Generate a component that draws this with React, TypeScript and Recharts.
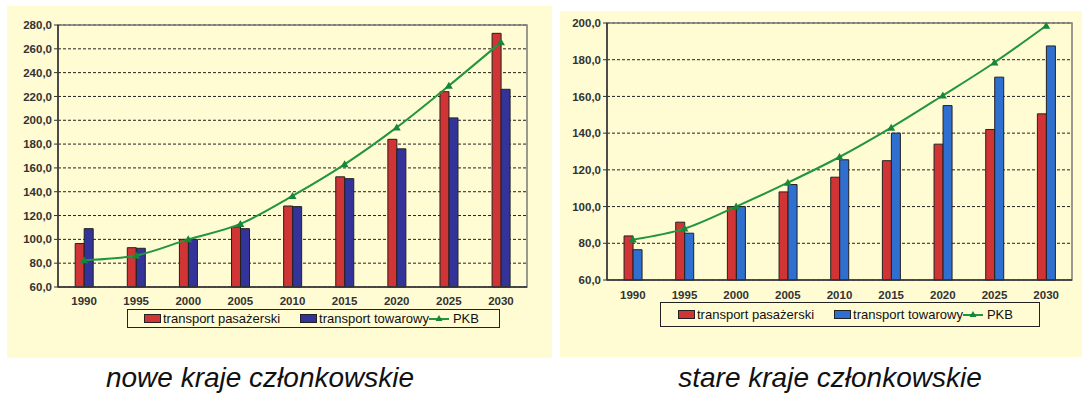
import React from "react";
import { ComposedChart, Bar, Line, XAxis, YAxis, CartesianGrid, Legend, ReferenceArea } from "recharts";

const years = ["1990", "1995", "2000", "2005", "2010", "2015", "2020", "2025", "2030"];

// nowe kraje członkowskie
const nowePasazerski = [96.5, 93, 100, 110.5, 128, 152.5, 184, 224, 273];
const noweTowarowy = [109, 92.5, 100, 109, 127.5, 151, 176, 202, 226];
const nowePKB = [82.5, 86.5, 100, 113, 136.5, 163, 194, 229, 265.5];
const noweTicks = [60, 80, 100, 120, 140, 160, 180, 200, 220, 240, 260, 280];

// stare kraje członkowskie
const starePasazerski = [84, 91.5, 100, 108, 116, 125, 134, 142, 150.5];
const stareTowarowy = [76.5, 85.5, 100, 112, 125.5, 140, 155, 170.5, 187.5];
const starePKB = [82, 88, 100, 113, 127, 143, 160.5, 178.5, 198.5];
const stareTicks = [60, 80, 100, 120, 140, 160, 180, 200];

const edgeTicks = [0, 1, 2, 3, 4, 5, 6, 7, 8, 9];

const YELLOW = "#FFFBD3";
const RED = "#D03434";
const GREEN = "#22963E";
const FONT = "Arial, 'Liberation Sans', sans-serif";

const fmt = (v: number) => v.toFixed(1).replace(".", ",");

const Triangle = (props: any) => {
  const { cx, cy } = props;
  if (cx == null || cy == null) return <g />;
  return <path d={`M${cx},${cy - 4} L${cx + 4},${cy + 3} L${cx - 4},${cy + 3} Z`} fill="#17853A" />;
};

function LegendBox({ payload, pad, gap }: any) {
  // bars first, line last, as in the original legend
  const items = [...(payload || [])].sort(
    (a: any, b: any) => (a.type === "line" ? 1 : 0) - (b.type === "line" ? 1 : 0)
  );
  return (
    <div
      style={{
        width: "100%",
        height: "100%",
        boxSizing: "border-box",
        border: "1px solid #222",
        background: YELLOW,
        display: "flex",
        alignItems: "center",
        paddingLeft: pad,
        fontFamily: FONT,
        fontSize: 13,
        color: "#111",
        whiteSpace: "nowrap",
      }}
    >
      {items.map((p: any, i: number) => (
        <div key={i} style={{ display: "flex", alignItems: "center", marginRight: i === 0 ? gap : 0 }}>
          {p.type === "line" ? (
            <svg width={20} height={10} style={{ marginRight: 4 }}>
              <line x1={0} y1={5} x2={20} y2={5} stroke={GREEN} strokeWidth={2} />
              <path d="M10,1 L13.5,7 L6.5,7 Z" fill="#17853A" />
            </svg>
          ) : (
            <span
              style={{
                display: "inline-block",
                width: 15,
                height: 7,
                background: p.color,
                border: "1px solid #222",
                marginRight: 2,
              }}
            />
          )}
          <span>{p.value}</span>
        </div>
      ))}
    </div>
  );
}

function Panel({ pas, tow, pkb, ticks, blue, width, height, margin, legend, gap, pad, tickMargin }: any) {
  const data = years.map((year, i) => ({ year, i, pas: pas[i], tow: tow[i], pkb: pkb[i] }));
  const max = ticks[ticks.length - 1];
  const tickStyle = { fill: "#333", fontSize: 11.5, fontWeight: 700, fontFamily: FONT };
  return (
    <ComposedChart width={width} height={height} data={data} margin={margin} barCategoryGap="33%" barGap={0}>
      <XAxis
        xAxisId="edge"
        dataKey="i"
        type="number"
        domain={[0, 9]}
        allowDataOverflow
        ticks={edgeTicks}
        height={0}
        axisLine={false}
        tick={() => <g />}
        tickSize={4}
        tickLine={{ stroke: "#333" }}
      />
      <XAxis
        xAxisId="cat"
        dataKey="year"
        height={30}
        tickLine={false}
        tickMargin={tickMargin}
        axisLine={{ stroke: "#333", strokeWidth: 1.5 }}
        tick={tickStyle}
        interval={0}
      />
      <YAxis
        width={margin.yw}
        domain={[60, max]}
        ticks={ticks}
        tickFormatter={fmt}
        tickSize={4}
        tickMargin={2}
        axisLine={{ stroke: "#333", strokeWidth: 1.5 }}
        tickLine={{ stroke: "#333" }}
        tick={tickStyle}
        interval={0}
      />
      <CartesianGrid xAxisId="cat" vertical={false} stroke="#222" strokeDasharray="3 2" />
      <ReferenceArea xAxisId="edge" x1={0} x2={9} y1={60} y2={max} fill="none" stroke="#7a7a7a" strokeWidth={1.5} />
      <Bar xAxisId="cat" dataKey="pas" name="transport pasażerski" fill={RED} stroke="#222" strokeWidth={1} isAnimationActive={false} />
      <Bar xAxisId="cat" dataKey="tow" name="transport towarowy" fill={blue} stroke="#222" strokeWidth={1} isAnimationActive={false} />
      <Line
        xAxisId="cat"
        type="monotone"
        dataKey="pkb"
        name="PKB"
        stroke={GREEN}
        strokeWidth={2}
        dot={<Triangle />}
        activeDot={false}
        isAnimationActive={false}
      />
      <Legend
        verticalAlign="middle"
        align="center"
        layout="horizontal"
        wrapperStyle={{ left: legend.left, top: legend.top, width: legend.width, height: legend.height }}
        content={(props: any) => <LegendBox payload={props.payload} gap={gap} pad={pad} />}
      />
    </ComposedChart>
  );
}

export default function App() {
  return (
    <div style={{ position: "absolute", left: 0, top: 0, width: 1088, height: 394, background: "#fff", fontFamily: FONT }}>
      <div style={{ position: "absolute", left: 7, top: 6, width: 545, height: 352, background: YELLOW }}>
        <Panel
          pas={nowePasazerski}
          tow={noweTowarowy}
          pkb={nowePKB}
          ticks={noweTicks}
          blue="#33339A"
          width={545}
          height={352}
          margin={{ top: 19, right: 25, bottom: 41, left: 0, yw: 51 }}
          legend={{ left: 120, top: 303, width: 373, height: 19 }}
          gap={20}
          pad={16}
          tickMargin={4}
        />
      </div>
      <div style={{ position: "absolute", left: 560, top: 11, width: 522, height: 346, background: YELLOW }}>
        <Panel
          pas={starePasazerski}
          tow={stareTowarowy}
          pkb={starePKB}
          ticks={stareTicks}
          blue="#2F6FCF"
          width={522}
          height={346}
          margin={{ top: 12, right: 10, bottom: 47, left: 0, yw: 47 }}
          legend={{ left: 100, top: 291, width: 380, height: 25 }}
          gap={20}
          pad={17}
          tickMargin={5}
        />
      </div>
      <div
        style={{
          position: "absolute",
          left: 0,
          width: 520,
          top: 362,
          lineHeight: "32px",
          fontSize: 28,
          fontStyle: "italic",
          textAlign: "center",
          color: "#111",
        }}
      >
        nowe kraje członkowskie
      </div>
      <div
        style={{
          position: "absolute",
          left: 570,
          width: 520,
          top: 362,
          lineHeight: "32px",
          fontSize: 28,
          fontStyle: "italic",
          textAlign: "center",
          color: "#111",
        }}
      >
        stare kraje członkowskie
      </div>
    </div>
  );
}
